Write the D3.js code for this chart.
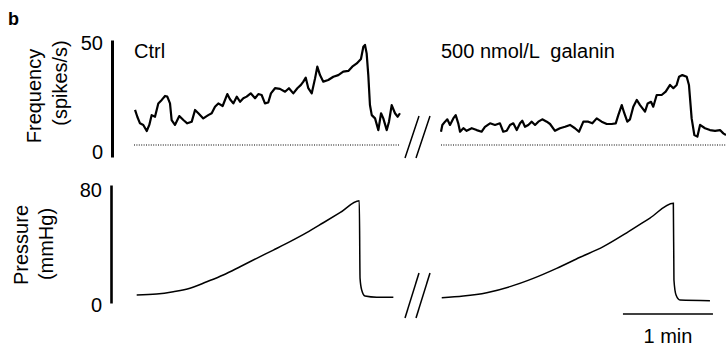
<!DOCTYPE html>
<html>
<head>
<meta charset="utf-8">
<script src="https://cdn.jsdelivr.net/npm/d3@7"></script>
<style>
  html, body { margin: 0; padding: 0; background: #fff; }
  svg { display: block; font-family: "Liberation Sans", Arial, sans-serif; }
</style>
</head>
<body>
<div id="chart"></div>
<script>
// time in s, frequency in spikes/s, pressure in mmHg
const ctrlFreq = [
  [0.7, 20.1], [2.2, 17.2], [4, 14.4], [6.2, 13.7], [8.5, 11.1], [10.2, 13.7], [11.8, 17.9],
  [14, 17.2], [16.2, 22.9], [18.5, 24.4], [20.7, 26.1], [22.2, 25.8], [24, 22.9], [25.1, 15.8],
  [27.3, 13.7], [30.2, 17.5], [32.9, 15.8], [35.5, 14.4], [38.5, 15.1], [40.7, 20.1], [42.9, 18.7],
  [46.2, 16.5], [49.5, 17.9], [51.8, 18.7], [54, 21.5], [56.2, 22.9], [59.1, 21.8], [62.2, 26.9],
  [64, 24.7], [66.2, 22.9], [68.5, 25.8], [70.7, 23.6], [72.9, 25.1], [75.1, 25.8], [77.8, 27.2],
  [80.7, 25.1], [82.9, 26.9], [85.1, 26.5], [87.3, 22.9], [89.5, 23.3], [91.3, 27.2], [94, 29.4],
  [97.3, 29.1], [100.7, 27.9], [103.3, 29.4], [106.2, 27.2], [108.9, 29.4], [111.3, 30.8],
  [112.9, 32.2], [114.5, 33.9], [116.2, 29.4], [118.5, 27.2], [120.7, 33.6], [122.2, 38.6],
  [124, 35.0], [126.2, 32.2], [129.5, 32.9], [132.9, 34.3], [136.2, 35.0], [139.5, 36.5],
  [142.9, 36.8], [145.5, 38.6], [148.5, 40.0], [151.3, 41.9], [152.9, 47.1], [154, 47.9],
  [155.1, 44.3], [156.2, 35.0], [157.3, 22.2], [158.5, 17.9], [160.7, 16.5], [162.9, 11.5],
  [164.7, 18.7], [166.2, 16.5], [168.5, 11.5], [170, 15.1], [171.8, 22.2], [174, 18.7],
  [175.8, 17.2], [177.3, 18.7]
];

const galFreq = [
  [0, 10.8], [0.9, 13.7], [2.7, 15.1], [4.2, 16.1], [6, 13.7], [8.2, 16.5], [9.8, 17.9],
  [11.5, 14.4], [12.7, 10.8], [14.9, 12.3], [17.1, 11.2], [20.5, 12.3], [23.8, 11.5], [27.1, 10.8],
  [29.3, 12.9], [32.7, 14.4], [36, 13.7], [39.3, 14.4], [41.5, 10.8], [43.8, 11.2], [46, 13.7],
  [48.2, 14.4], [50.5, 11.5], [52.7, 14.4], [54.2, 15.5], [56, 12.9], [58.2, 13.7], [60.5, 15.1],
  [62.7, 13.7], [64.9, 15.1], [67.5, 16.1], [70.5, 15.1], [72.7, 14.1], [76, 11.2], [79.3, 12.3],
  [82.7, 12.9], [86, 13.7], [89.3, 12.3], [92, 10.8], [94.9, 15.1], [98.2, 15.1], [100.9, 14.4],
  [103.8, 16.5], [107.1, 15.1], [110.5, 14.1], [113.8, 14.1], [116.5, 14.4], [118.2, 17.9],
  [120.5, 22.2], [122.2, 18.7], [124.2, 15.1], [126, 16.1], [128.2, 21.5], [130.5, 24.4],
  [132.7, 22.2], [136, 19.4], [137.8, 22.9], [140, 23.6], [141.5, 21.5], [143.8, 26.5],
  [147.1, 26.5], [149.8, 27.9], [152.7, 30.8], [154.9, 29.4], [157.1, 30.8], [158.7, 34.3],
  [160.9, 35.0], [163.8, 34.3], [165.3, 30.8], [167.1, 16.5], [168.9, 9.4], [170.9, 8.7],
  [172.7, 13.7], [176, 12.3], [179.3, 11.5], [182.7, 11.2], [186, 11.5], [188.2, 10.1], [190, 9.4]
];

const ctrlPress = [
  [1.8, 5.4], [15.1, 6.1], [26.2, 7.7], [37.3, 10.0], [48.5, 14.4], [59.5, 19.0], [70.7, 24.6],
  [81.8, 30.3], [92.9, 35.9], [104, 41.6], [115.1, 47.7], [126.2, 54.4], [137.3, 61.2],
  [150.2, 69.3], [150.7, 16.7], [151.8, 8.8], [154, 4.7], [161.8, 3.9], [172.9, 3.9]
];

const galPress = [
  [0.5, 3.6], [14.9, 4.7], [30.5, 7.0], [46, 11.1], [61.5, 16.7], [77.1, 23.5], [92.7, 31.0],
  [108.2, 38.2], [123.8, 47.6], [139.3, 57.6], [154.9, 67.6], [155.3, 15.6], [156.7, 5.4],
  [159.3, 2.0], [179.3, 1.6]
];

const segmentLabels = ["Ctrl", "500 nmol/L  galanin"];
const segmentEnds = [177.3, 190];   // s, extent of the dotted baseline
const freqBaseline = 5.1;           // spikes/s
const freqTicks = [0, 50];
const pressTicks = [0, 80];
const scaleBar = { start: 121.3, length: 60, label: "1 min" };

const width = 726, height = 348;
const font = 20;

const svg = d3.select("#chart").append("svg")
  .attr("width", width)
  .attr("height", height);

// x: one minute = 90 px, two segments with a break between them
const segX = [134, 441].map(x0 => d3.scaleLinear().domain([0, 60]).range([x0, x0 + 90]));

const yFreq = d3.scaleLinear().domain(freqTicks).range([157, 40]);
const yPress = d3.scaleLinear().domain(pressTicks).range([303, 185]);

// panel letter
svg.append("text")
  .attr("x", 8).attr("y", 25)
  .attr("font-size", 18).attr("font-weight", "bold")
  .text("b");

// y axes: plain bar with end labels
function drawAxis(y, x, strokeW, offsets) {
  const g = svg.append("g")
    .attr("transform", `translate(${x},0)`)
    .call(d3.axisLeft(y).tickValues(y.domain()).tickSize(0).tickPadding(9).tickSizeOuter(0));
  g.select(".domain").attr("stroke", "#000").attr("stroke-width", strokeW);
  g.selectAll(".tick text")
    .attr("font-size", font)
    .attr("font-family", "Liberation Sans, Arial, sans-serif")
    .attr("fill", "#000")
    .attr("transform", (d, i) => `translate(0,${offsets[i]})`);
}
drawAxis(yFreq, 112, 3, [-4.5, 3.5]);
drawAxis(yPress, 111, 2.6, [2, 5]);

// axis titles
function yTitle(lines) {
  lines.forEach(l => {
    svg.append("text")
      .attr("transform", `translate(${l.x},${l.y}) rotate(-90)`)
      .attr("text-anchor", "middle")
      .attr("font-size", font)
      .text(l.text);
  });
}
yTitle([{ text: "Frequency", x: 41, y: 96 }, { text: "(spikes/s)", x: 67, y: 83 }]);
yTitle([{ text: "Pressure", x: 28, y: 245 }, { text: "(mmHg)", x: 53, y: 244 }]);

[ctrlFreq, galFreq].forEach((data, s) => {
  const x = segX[s];
  // dotted baseline
  svg.append("line")
    .attr("x1", x(0)).attr("x2", x(segmentEnds[s]))
    .attr("y1", yFreq(freqBaseline)).attr("y2", yFreq(freqBaseline))
    .attr("stroke", "#555").attr("stroke-width", 1.4)
    .attr("stroke-dasharray", "1,1.4");

  svg.append("path")
    .datum(data)
    .attr("fill", "none")
    .attr("stroke", "#000")
    .attr("stroke-width", 2.2)
    .attr("stroke-linejoin", "round")
    .attr("d", d3.line().x(d => x(d[0])).y(d => yFreq(d[1])));

  svg.append("text")
    .attr("x", x(0)).attr("y", 58)
    .attr("font-size", font)
    .style("white-space", "pre")
    .text(segmentLabels[s]);
});

[ctrlPress, galPress].forEach((data, s) => {
  const x = segX[s];
  svg.append("path")
    .datum(data)
    .attr("fill", "none")
    .attr("stroke", "#000")
    .attr("stroke-width", 1.5)
    .attr("d", d3.line().x(d => x(d[0])).y(d => yPress(d[1])).curve(d3.curveMonotoneX));
});

// break marks "//"
const breakX = 405;
[[116, 158], [273, 318]].forEach(([top, bottom]) => {
  [0, 11].forEach(dx => {
    svg.append("line")
      .attr("x1", breakX + dx).attr("y1", bottom)
      .attr("x2", breakX + dx + 14).attr("y2", top)
      .attr("stroke", "#000").attr("stroke-width", 1.5);
  });
});

// time scale bar
const xs = segX[1];
svg.append("line")
  .attr("x1", xs(scaleBar.start)).attr("x2", xs(scaleBar.start + scaleBar.length))
  .attr("y1", 314).attr("y2", 314)
  .attr("stroke", "#000").attr("stroke-width", 1.5);
svg.append("text")
  .attr("x", xs(scaleBar.start + scaleBar.length / 2)).attr("y", 343)
  .attr("text-anchor", "middle")
  .attr("font-size", font)
  .text(scaleBar.label);
</script>
</body>
</html>
